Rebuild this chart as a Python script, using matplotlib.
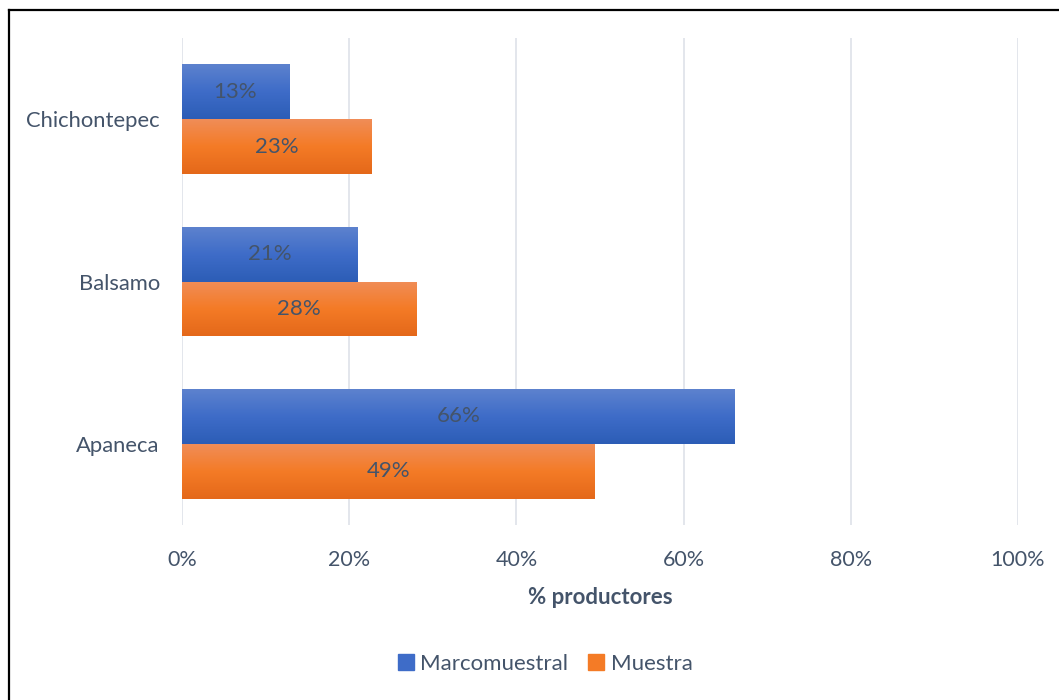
import matplotlib
matplotlib.use("Agg")
import matplotlib.pyplot as plt
import numpy as np
from matplotlib.colors import LinearSegmentedColormap
from matplotlib.lines import Line2D

categories = ["Apaneca", "Balsamo", "Chichontepec"]
marco = [66.1, 21.0, 12.8]          # Marcomuestral
muestra = [49.4, 28.0, 22.7]        # Muestra
series_names = ["Marcomuestral", "Muestra"]
xticks = [0, 20, 40, 60, 80, 100]

plt.rcParams['font.family'] = ['Lato', 'DejaVu Sans']
txt = "#44546A"

blue_cm = LinearSegmentedColormap.from_list("b", ["#2C5DB6", "#3E6CC8", "#5D82CE"])
orange_cm = LinearSegmentedColormap.from_list("o", ["#E4681A", "#F47B26", "#F08D58"])

fig = plt.figure(figsize=(10.59, 7), dpi=100)
ax = fig.add_axes([182/1059, 175/700, 836/1059, 487/700])

y = np.arange(len(categories))
h = 0.3375
bars1 = ax.barh(y + h/2, marco, height=h, color="#3E6CC8", label=series_names[0])
bars2 = ax.barh(y - h/2, muestra, height=h, color="#F47B26", label=series_names[1])

# gradient fill inside every bar
grad = np.linspace(0, 1, 256).reshape(-1, 1)
for bars, cm in [(bars1, blue_cm), (bars2, orange_cm)]:
    for b in bars:
        x0, y0 = b.get_x(), b.get_y()
        w, hh = b.get_width(), b.get_height()
        b.set_facecolor("none")
        b.set_edgecolor("none")
        im = ax.imshow(grad, cmap=cm, aspect="auto", origin="lower",
                       extent=[x0, x0 + w, y0, y0 + hh], zorder=2)
        im.set_clip_path(b)
        ax.text(x0 + w/2, y0 + hh/2, f"{round(w):.0f}%", ha="center", va="center",
                fontsize=16, color=txt, zorder=3)

ax.set_xlim(0, 100)
ax.set_ylim(-0.5, 2.5)
ax.set_xticks(xticks)
ax.set_xticklabels([f"{t}%" for t in xticks], fontsize=15.5, color=txt)
ax.set_yticks(y)
ax.set_yticklabels(categories, fontsize=15.8, color=txt)
ax.tick_params(length=0, pad=18)
ax.tick_params(axis="y", pad=16)
ax.grid(axis="x", color="#E1E4EA", linewidth=1.3)
ax.set_axisbelow(True)
for s in ax.spines.values():
    s.set_visible(False)
ax.set_xlabel("% productores", fontsize=16, fontweight="bold", color=txt, labelpad=12)

handles = [plt.Rectangle((0, 0), 1, 1, color="#3E6CC8"), plt.Rectangle((0, 0), 1, 1, color="#F47B26")]
fig.legend(handles, series_names, loc="center", bbox_to_anchor=(0.515, 36/700), ncol=2,
           frameon=False, fontsize=16, labelcolor=txt, handlelength=0.7, handleheight=0.7,
           handletextpad=0.3, columnspacing=0.9)

# outer frame (left and top edges visible)
fig.add_artist(Line2D([8.5/1059, 8.5/1059], [0, 1 - 9.5/700], color="black", lw=1.6))
fig.add_artist(Line2D([8.5/1059, 1], [1 - 9.5/700, 1 - 9.5/700], color="black", lw=1.6))

fig.savefig("out.png", dpi=100)
